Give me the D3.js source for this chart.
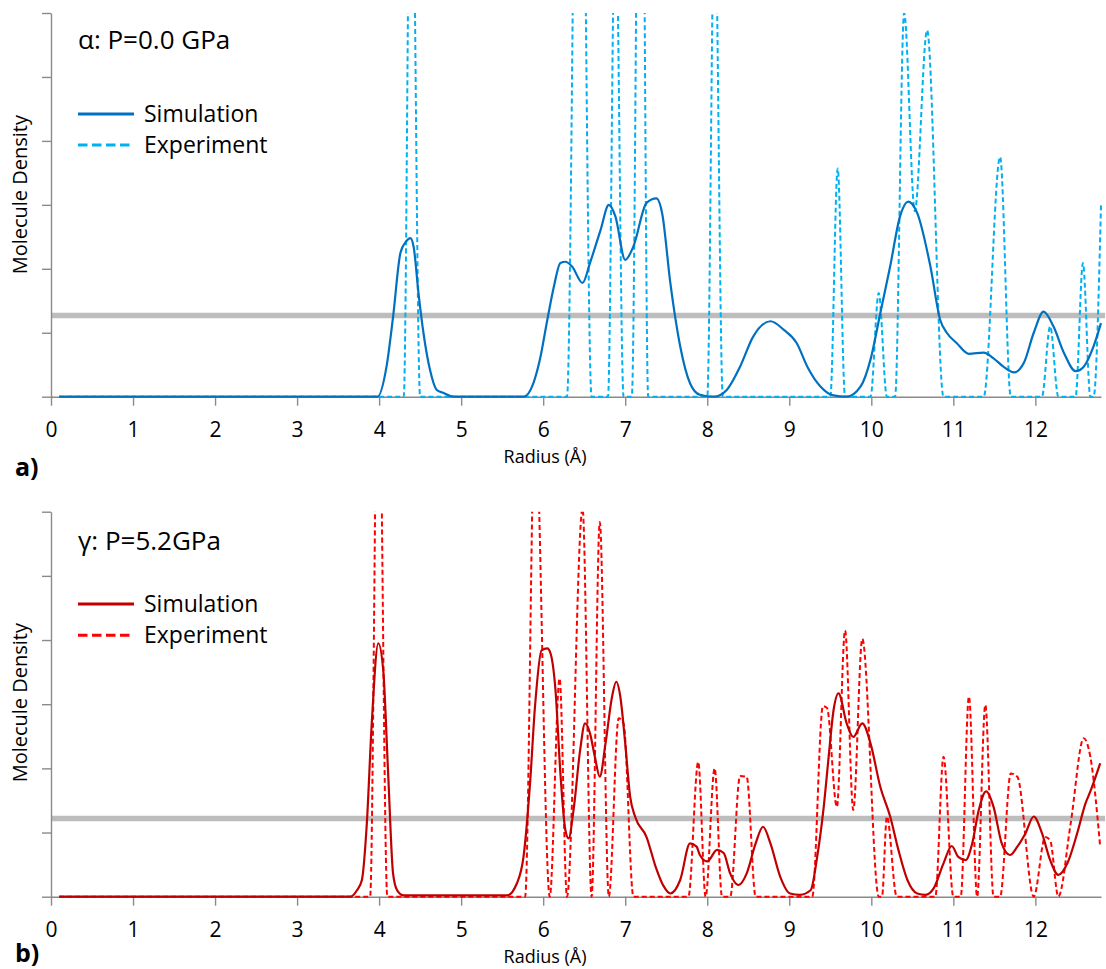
<!DOCTYPE html>
<html>
<head>
<meta charset="utf-8">
<script src="https://cdn.jsdelivr.net/npm/d3@7"></script>
<style>
  html, body { margin: 0; padding: 0; background: #ffffff; }
  svg { display: block; }
  text { font-family: "Open Sans", Lato, "DejaVu Sans", sans-serif; fill: #000; font-variant-ligatures: none; }
</style>
</head>
<body>
<svg id="chart" width="1106" height="969"></svg>
<script>
// ---- axis ticks ----
const radiusTicks = [0, 1, 2, 3, 4, 5, 6, 7, 8, 9, 10, 11, 12];
const densityTicks = [0, 1, 2, 3, 4, 5, 6];

// ---- alpha phase, P = 0.0 GPa : [radius (Å), density] ----
const alphaSimulation = [
  [0.10, 0], [3.98, 0], [4.09, 0.47], [4.17, 1.25], [4.26, 2.25], [4.33, 2.43], [4.38, 2.48],
  [4.42, 2.35], [4.48, 1.62], [4.54, 1.0], [4.62, 0.42], [4.70, 0.11], [4.78, 0.06], [4.91, 0],
  [5.76, 0], [5.88, 0.21], [5.96, 0.58], [6.05, 1.2], [6.13, 1.72], [6.21, 2.09], [6.27, 2.11],
  [6.35, 2.04], [6.48, 1.78], [6.57, 2.09], [6.70, 2.61], [6.80, 3.0], [6.88, 2.82], [7.00, 2.14],
  [7.10, 2.35], [7.26, 3.03], [7.38, 3.1], [7.45, 2.87], [7.55, 1.78], [7.67, 0.79], [7.79, 0.21],
  [7.91, 0.03], [8.08, 0], [8.24, 0.11], [8.40, 0.47], [8.56, 0.94], [8.77, 1.18], [8.93, 1.05],
  [9.09, 0.84], [9.22, 0.47], [9.38, 0.16], [9.54, 0.02], [9.70, 0], [9.87, 0.16], [9.99, 0.58],
  [10.11, 1.31], [10.23, 2.04], [10.35, 2.82], [10.45, 3.05], [10.56, 2.87], [10.72, 2.04],
  [10.84, 1.2], [10.92, 1.0], [11.04, 0.84], [11.19, 0.67], [11.37, 0.69], [11.49, 0.6],
  [11.61, 0.47], [11.74, 0.38], [11.86, 0.53], [11.98, 1.0], [12.10, 1.33], [12.22, 1.1],
  [12.35, 0.68], [12.49, 0.40], [12.59, 0.47], [12.71, 0.79], [12.80, 1.15]
];
const alphaExperiment = [
  [0.10, 0], [4.30, 0], [4.39, 10], [4.50, 0],
  [6.29, 0], [6.44, 13.5], [6.59, 0],
  [6.79, 0], [6.88, 7.9], [6.98, 0],
  [7.08, 0], [7.19, 13], [7.28, 0],
  [8.00, 0], [8.09, 7.8], [8.19, 0],
  [9.50, 0], [9.59, 3.57], [9.68, 0],
  [9.99, 0], [10.09, 1.62], [10.19, 0],
  [10.29, 0], [10.40, 6.0], [10.53, 2.9], [10.68, 5.73], [10.88, 0],
  [11.37, 0], [11.57, 3.75], [11.70, 0],
  [12.08, 0], [12.18, 1.1], [12.28, 0],
  [12.49, 0], [12.58, 2.09], [12.67, 0],
  [12.71, 0], [12.80, 3.0]
];
const alphaReference = [[0, 1.27], [12.85, 1.27]];

// ---- gamma phase, P = 5.2 GPa : [radius (Å), density] ----
const gammaSimulation = [
  [0.10, 0], [3.65, 0], [3.73, 0.10], [3.79, 0.26], [3.85, 1.14], [3.91, 2.70], [3.99, 3.95],
  [4.05, 3.53], [4.11, 1.92], [4.17, 0.36], [4.22, 0.10], [4.30, 0.02], [5.56, 0.02],
  [5.68, 0.21], [5.76, 0.62], [5.84, 1.77], [5.90, 2.96], [5.98, 3.84], [6.05, 3.87],
  [6.09, 3.79], [6.15, 3.22], [6.21, 1.92], [6.27, 1.04], [6.31, 0.91], [6.37, 1.35],
  [6.45, 2.28], [6.51, 2.70], [6.57, 2.55], [6.63, 2.18], [6.69, 1.87], [6.76, 2.39],
  [6.84, 3.12], [6.89, 3.35], [6.94, 3.12], [7.00, 2.39], [7.06, 1.56], [7.12, 1.25],
  [7.26, 0.93], [7.37, 0.47], [7.47, 0.16], [7.55, 0.05], [7.67, 0.26], [7.79, 0.83],
  [7.87, 0.78], [7.91, 0.65], [8.00, 0.55], [8.12, 0.73], [8.20, 0.68], [8.28, 0.36],
  [8.38, 0.18], [8.48, 0.36], [8.59, 0.83], [8.68, 1.09], [8.77, 0.83], [8.89, 0.31],
  [9.01, 0.05], [9.13, 0.03], [9.26, 0.10], [9.34, 0.62], [9.42, 1.40], [9.48, 2.18],
  [9.54, 2.91], [9.60, 3.17], [9.70, 2.70], [9.78, 2.49], [9.89, 2.70], [9.99, 2.39],
  [10.11, 1.71], [10.23, 1.25], [10.33, 0.73], [10.44, 0.26], [10.56, 0.05], [10.66, 0.03],
  [10.76, 0.13], [10.88, 0.52], [10.98, 0.79], [11.06, 0.62], [11.15, 0.57], [11.23, 0.83],
  [11.31, 1.35], [11.40, 1.64], [11.49, 1.40], [11.59, 0.83], [11.69, 0.65], [11.78, 0.78],
  [11.88, 0.99], [11.98, 1.25], [12.08, 0.99], [12.18, 0.57], [12.28, 0.34], [12.39, 0.52],
  [12.51, 0.99], [12.61, 1.45], [12.67, 1.64], [12.79, 2.08]
];
const gammaExperiment = [
  [0.10, 0], [3.89, 0], [3.99, 9.1], [4.10, 0],
  [5.78, 0], [5.90, 7.5], [6.08, 0],
  [6.20, 3.40], [6.29, 0],
  [6.48, 6.05], [6.59, 0],
  [6.69, 5.84], [6.80, 0],
  [6.92, 2.78], [6.98, 2.70], [7.10, 0],
  [7.77, 0], [7.89, 2.10], [7.98, 0],
  [8.09, 2.0], [8.18, 0],
  [8.28, 0], [8.40, 1.88], [8.48, 1.87], [8.59, 0],
  [9.28, 0], [9.41, 2.97], [9.46, 2.94], [9.58, 1.40], [9.68, 4.15], [9.78, 1.35], [9.89, 4.02], [10.09, 0],
  [10.13, 0], [10.19, 1.25], [10.31, 0],
  [10.78, 0], [10.88, 2.18], [11.00, 0],
  [11.09, 0], [11.19, 3.12], [11.29, 0],
  [11.39, 2.99], [11.49, 0],
  [11.57, 0], [11.70, 1.92], [11.78, 1.87], [11.98, 0],
  [12.12, 0.93], [12.18, 0.88], [12.28, 0],
  [12.43, 1.14], [12.59, 2.47], [12.67, 2.18], [12.79, 0.78]
];
const gammaReference = [[0, 1.22], [12.85, 1.22]];

const panels = [
  {
    id: "alpha", label: "a)", title: "\u03b1: P=0.0 GPa",
    top: 13, bottom: 396.7,
    sim: alphaSimulation, exp: alphaExperiment, ref: alphaReference,
    simColor: "#0070C0", expColor: "#00B0F0",
    titleY: 49, legendY: [114, 145], labelY: 476, xTitleY: 463, yTitleEnd: 115
  },
  {
    id: "gamma", label: "b)", title: "\u03b3: P=5.2GPa",
    top: 511.7, bottom: 896.7,
    sim: gammaSimulation, exp: gammaExperiment, ref: gammaReference,
    simColor: "#C00000", expColor: "#FF0000",
    titleY: 550, legendY: [604, 635.3], labelY: 962, xTitleY: 963, yTitleEnd: 623
  }
];

const svg = d3.select("#chart");
const plotLeft = 51, plotRight = 1101;
const x = d3.scaleLinear().domain([0, 12.8]).range([plotLeft, plotRight]);
const axisColor = "#8a8a8a";

panels.forEach(p => {
  const g = svg.append("g").attr("class", "panel-" + p.id);
  const y = d3.scaleLinear().domain([0, 6]).range([p.bottom, p.top]);

  const clipId = "clip-" + p.id;
  svg.append("clipPath").attr("id", clipId)
    .append("rect")
    .attr("x", plotLeft).attr("y", p.top)
    .attr("width", plotRight - plotLeft + 2)
    .attr("height", p.bottom - p.top + 4);

  const line = d3.line()
    .x(d => x(d[0]))
    .y(d => y(d[1]))
    .curve(d3.curveMonotoneX);

  // reference level
  g.append("path")
    .datum(p.ref)
    .attr("d", d3.line().x(d => x(d[0])).y(d => y(d[1])))
    .attr("fill", "none")
    .attr("stroke", "#bdbdbd")
    .attr("stroke-width", 5.5);

  // axes
  const xAxis = g.append("g")
    .attr("transform", `translate(0,${p.bottom})`)
    .call(d3.axisBottom(x).tickValues(radiusTicks).tickSize(9).tickSizeOuter(0).tickPadding(16).tickFormat(d3.format("d")));
  const yAxis = g.append("g")
    .attr("transform", `translate(${plotLeft},0)`)
    .call(d3.axisLeft(y).tickValues(densityTicks).tickSize(9).tickSizeOuter(0).tickFormat(""));
  [xAxis, yAxis].forEach(a => {
    a.select(".domain").attr("stroke", axisColor).attr("stroke-width", 1.4);
    a.selectAll(".tick line").attr("stroke", axisColor).attr("stroke-width", 1.4);
  });
  xAxis.selectAll(".tick text")
    .attr("fill", "#000")
    .style("font-family", "'Open Sans', sans-serif")
    .style("font-size", "21px");

  // series
  const series = g.append("g").attr("clip-path", `url(#${clipId})`);
  series.append("path")
    .datum(p.exp)
    .attr("d", line)
    .attr("fill", "none")
    .attr("stroke", p.expColor)
    .attr("stroke-width", 2)
    .attr("stroke-dasharray", "5,3");
  series.append("path")
    .datum(p.sim)
    .attr("d", line)
    .attr("fill", "none")
    .attr("stroke", p.simColor)
    .attr("stroke-width", 2.2);

  // titles
  g.append("text")
    .attr("x", 545).attr("y", p.xTitleY)
    .attr("text-anchor", "middle")
    .style("font-size", "18px")
    .text("Radius (\u00c5)");
  g.append("text")
    .attr("transform", `translate(27,${p.yTitleEnd}) rotate(-90)`)
    .attr("text-anchor", "end")
    .style("font-size", "20px")
    .text("Molecule Density");
  g.append("text")
    .attr("x", 15).attr("y", p.labelY)
    .style("font-size", "25px")
    .style("font-weight", "bold")
    .text(p.label);

  // phase title and legend
  g.append("text")
    .attr("x", 78).attr("y", p.titleY)
    .style("font-size", "26px")
    .text(p.title);
  const legend = [
    { name: "Simulation", color: p.simColor, dash: null },
    { name: "Experiment", color: p.expColor, dash: "9.5,4.5" }
  ];
  legend.forEach((item, i) => {
    const ly = p.legendY[i];
    g.append("line")
      .attr("x1", 78).attr("x2", 134)
      .attr("y1", ly).attr("y2", ly)
      .attr("stroke", item.color)
      .attr("stroke-width", 3)
      .attr("stroke-dasharray", item.dash);
    g.append("text")
      .attr("x", 144).attr("y", ly + 7.5)
      .style("font-size", "23px")
      .text(item.name);
  });
});
</script>
</body>
</html>
